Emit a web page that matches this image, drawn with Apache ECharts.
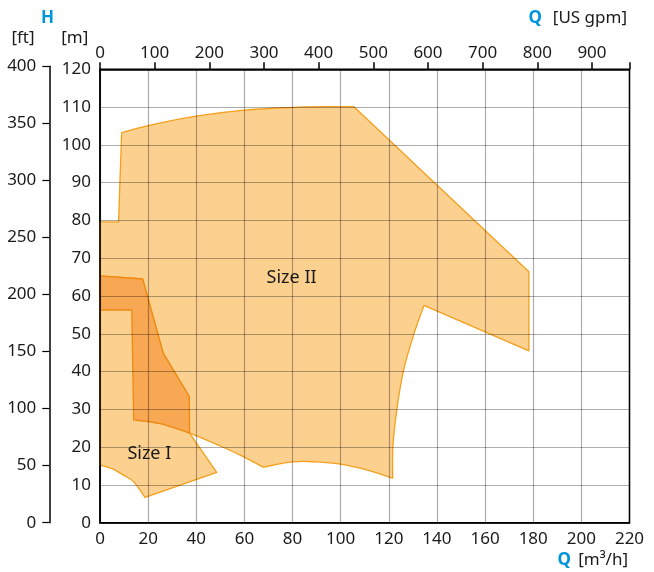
<!DOCTYPE html>
<html><head><meta charset="utf-8">
<script src="https://cdn.jsdelivr.net/npm/echarts/dist/echarts.min.js"></script>
<style>html,body{margin:0;padding:0;background:#fff}#c{width:654px;height:572px}</style>
</head><body><div id="c"></div>
<script>
// Axis ticks
const qTicks = [0, 20, 40, 60, 80, 100, 120, 140, 160, 180, 200, 220];   // m3/h
const hmTicks = [0, 10, 20, 30, 40, 50, 60, 70, 80, 90, 100, 110, 120];  // m
const ftTicks = [0, 50, 100, 150, 200, 250, 300, 350, 400];             // ft
const gpmTicks = [0, 100, 200, 300, 400, 500, 600, 700, 800, 900];      // US gpm
const gpmMax = 220 * 4.4029;

// Outlines as edge lists [Q m3/h, H m]; 2-point edges are straight, longer ones are curves
const sizeII = [
  [[0, 56.3], [0, 79.6]],
  [[0, 79.6], [7.7, 79.6]],
  [[7.7, 79.6], [9.0, 103.2]],
  [[9.0, 103.2], [20, 105.1], [40, 107.6], [60, 109.2], [80, 109.9], [92, 110.1], [105.5, 110.1]],
  [[105.5, 110.1], [178.2, 66.4]],
  [[178.2, 66.4], [178.2, 45.5]],
  [[178.2, 45.5], [134.6, 57.5]],
  [[134.6, 57.5], [130.4, 49.9], [126.0, 40.0], [123.3, 29.8], [121.7, 20.1], [121.6, 11.8]],
  [[121.6, 11.8], [110, 14.1], [100, 15.5], [90, 16.1], [80, 16.1], [67.8, 14.7]],
  [[67.8, 14.7], [59.5, 17.5], [50, 20.3], [37.2, 23.7], [25, 26.2], [14.0, 27.2]],
  [[14.0, 27.2], [13.2, 56.3]],
  [[13.2, 56.3], [0, 56.3]]
];
const sizeI = [
  [[0, 15.3], [0, 65.3]],
  [[0, 65.3], [17.7, 64.5]],
  [[17.7, 64.5], [26.3, 44.8]],
  [[26.3, 44.8], [37.1, 33.4]],
  [[37.1, 33.4], [37.2, 23.7]],
  [[37.2, 23.7], [48.5, 13.3]],
  [[48.5, 13.3], [18.7, 6.7]],
  [[18.7, 6.7], [14, 10.8], [9.7, 12.6], [5, 14.3], [0, 15.3]]
];
// Region where both ranges overlap
const overlap = [
  [[0, 56.3], [0, 65.3]],
  [[0, 65.3], [17.7, 64.5]],
  [[17.7, 64.5], [26.3, 44.8]],
  [[26.3, 44.8], [37.1, 33.4]],
  [[37.1, 33.4], [37.2, 23.7]],
  [[37.2, 23.7], [25, 26.2], [14.0, 27.2]],
  [[14.0, 27.2], [13.2, 56.3]],
  [[13.2, 56.3], [0, 56.3]]
];
const regionNames = ['Size II', 'Size I'];
const regionLabelPos = [[79.6, 64.7], [20.5, 18.3]];

const FONT = '"Noto Sans", "DejaVu Sans", sans-serif';
const TXT = '#1a1a1a';
const BLUE = '#0095DA';

function buildPath(edges, api) {
  let d = '';
  edges.forEach(function (edge, ei) {
    const P = edge.map(p => api.coord(p));
    if (ei === 0) d += 'M' + P[0][0] + ' ' + P[0][1];
    if (P.length === 2) {
      d += 'L' + P[1][0] + ' ' + P[1][1];
    } else {
      for (let i = 0; i < P.length - 1; i++) {
        const p0 = P[Math.max(i - 1, 0)], p1 = P[i], p2 = P[i + 1], p3 = P[Math.min(i + 2, P.length - 1)];
        const c1 = [p1[0] + (p2[0] - p0[0]) / 6, p1[1] + (p2[1] - p0[1]) / 6];
        const c2 = [p2[0] - (p3[0] - p1[0]) / 6, p2[1] - (p3[1] - p1[1]) / 6];
        d += 'C' + c1[0] + ' ' + c1[1] + ' ' + c2[0] + ' ' + c2[1] + ' ' + p2[0] + ' ' + p2[1];
      }
    }
  });
  return d + 'Z';
}

function region(edges, fill, stroke, z) {
  return {
    type: 'custom', xAxisIndex: 0, yAxisIndex: 0, z: z, silent: true,
    data: edges.map(e => e[0]),
    renderItem: function (params, api) {
      if (params.dataIndex !== 0) return null;
      return {
        type: 'path',
        shape: { pathData: buildPath(edges, api), layout: 'center' },
        style: { fill: fill, stroke: stroke, lineWidth: 1.3, lineJoin: 'round' }
      };
    }
  };
}

const chart = echarts.init(document.getElementById('c'), null, { renderer: 'canvas' });
chart.setOption({
  animation: false,
  textStyle: { fontFamily: FONT },
  grid: [
    { left: 100, top: 69.3, right: 24.5, bottom: 49.3, show: true, borderColor: '#000', borderWidth: 1.5, backgroundColor: 'transparent' },
    { left: 49.3, top: 66.3, width: 1, bottom: 49.3 }
  ],
  xAxis: [
    {
      type: 'value', gridIndex: 0, min: qTicks[0], max: qTicks[qTicks.length - 1], interval: 20, z: 10,
      axisLine: { show: true, lineStyle: { color: '#000', width: 1.5 } },
      axisTick: { show: false },
      axisLabel: { color: TXT, fontSize: 17, margin: 8, fontFamily: FONT },
      splitLine: { show: true, lineStyle: { color: 'rgba(0,0,0,0.32)', width: 1.2 } }
    },
    {
      type: 'value', gridIndex: 0, position: 'top', min: 0, max: gpmMax, interval: 100,
      axisLine: { show: true, onZero: false, lineStyle: { color: '#000', width: 1.5 } },
      axisTick: { show: true, length: 7, lineStyle: { color: '#000', width: 1.5 } },
      axisLabel: { color: TXT, fontSize: 17, margin: 8, customValues: gpmTicks, fontFamily: FONT },
      splitLine: { show: false }
    },
    { type: 'value', gridIndex: 1, show: false, min: 0, max: 1 }
  ],
  yAxis: [
    {
      type: 'value', gridIndex: 0, min: hmTicks[0], max: hmTicks[hmTicks.length - 1], interval: 10, z: 10,
      axisLine: { show: true, lineStyle: { color: '#000', width: 1.5 } },
      axisTick: { show: false },
      axisLabel: { color: TXT, fontSize: 17, margin: 9, fontFamily: FONT },
      splitLine: { show: true, lineStyle: { color: 'rgba(0,0,0,0.32)', width: 1.2 } }
    },
    {
      type: 'value', gridIndex: 1, min: ftTicks[0], max: ftTicks[ftTicks.length - 1], interval: 50,
      axisLine: { show: true, lineStyle: { color: '#000', width: 1.5 } },
      axisTick: { show: true, length: 7, lineStyle: { color: '#000', width: 1.2 } },
      axisLabel: { color: TXT, fontSize: 17, margin: 13, fontFamily: FONT },
      splitLine: { show: false }
    }
  ],
  series: [
    region(sizeII, '#FCD08F', '#F5A01C', 2),
    region(sizeI, '#FCD08F', '#F5A01C', 3),
    region(overlap, '#F8A752', '#EE8A12', 4),
    {
      type: 'custom', xAxisIndex: 0, yAxisIndex: 0, z: 6, silent: true,
      data: regionLabelPos,
      renderItem: function (params, api) {
        const p = api.coord(regionLabelPos[params.dataIndex]);
        return {
          type: 'text',
          style: { text: regionNames[params.dataIndex], x: p[0], y: p[1], textAlign: 'center', textVerticalAlign: 'middle', font: '18px ' + FONT, fill: TXT }
        };
      }
    }
  ],
  graphic: [
    { type: 'text', style: { text: 'H', x: 47.5, y: 18, textAlign: 'center', textVerticalAlign: 'middle', font: 'bold 17px ' + FONT, fill: BLUE } },
    { type: 'text', style: { text: '[ft]', x: 23, y: 38.5, textAlign: 'center', textVerticalAlign: 'middle', font: '17px ' + FONT, fill: TXT } },
    { type: 'text', style: { text: '[m]', x: 74.7, y: 38.5, textAlign: 'center', textVerticalAlign: 'middle', font: '17px ' + FONT, fill: TXT } },
    { type: 'text', style: { text: 'Q', x: 542, y: 18.3, textAlign: 'right', textVerticalAlign: 'middle', font: 'bold 17px ' + FONT, fill: BLUE } },
    { type: 'text', style: { text: '[US gpm]', x: 627, y: 18.3, textAlign: 'right', textVerticalAlign: 'middle', font: '17px ' + FONT, fill: TXT } },
    { type: 'text', style: { text: 'Q', x: 571, y: 560, textAlign: 'right', textVerticalAlign: 'middle', font: 'bold 17px ' + FONT, fill: BLUE } },
    { type: 'text', style: { text: '[m³/h]', x: 628, y: 560, textAlign: 'right', textVerticalAlign: 'middle', font: '17px ' + FONT, fill: TXT } }
  ]
});
</script>
</body></html>
